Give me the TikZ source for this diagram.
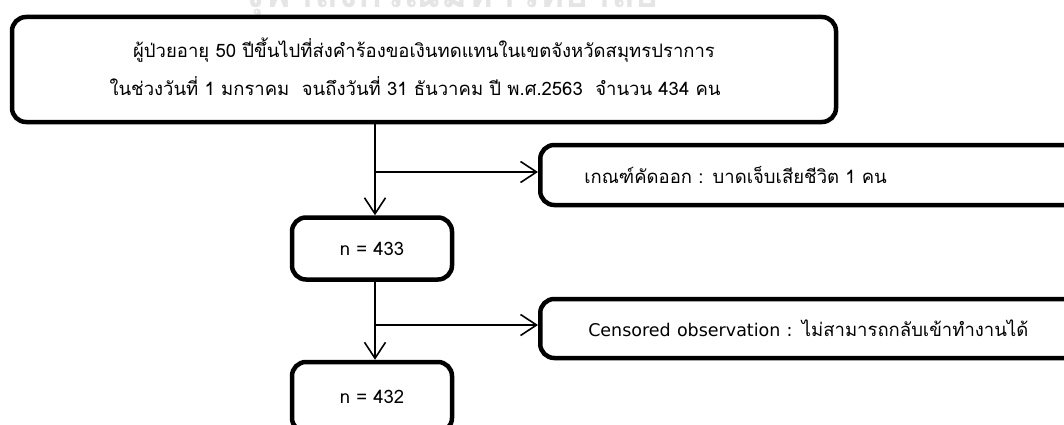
\documentclass[tikz,border=0pt]{standalone}
\usepackage{fontspec}
\newfontfamily\thai[Script=Thai]{Loma}
\newfontfamily\latin{DejaVu Sans}
\usetikzlibrary{arrows.meta}
\begin{document}
\begin{tikzpicture}[x=1pt,y=-1pt,
  box/.style={draw=black, line width=4.5pt, rounded corners=14pt, fill=white, inner sep=0pt},
  conn/.style={draw=black, line width=1.6pt},
  arr/.style={conn, -{Straight Barb[length=16pt,width=21pt,line width=1.6pt]}},
  txt/.style={font=\thai\fontsize{18.5}{36}\selectfont}]
\useasboundingbox (0,0) rectangle (1064,425);
\clip (0,0) rectangle (1064,425);
\fill[white] (0,0) rectangle (1064,425);
% watermark
\node[font=\thai\bfseries\fontsize{40}{40}\selectfont, text=black!10, anchor=base] (wm) at (450,8) {จุฬาลงกรณ์มหาวิทยาลัย};
% boxes
\node[box, minimum width=824pt, minimum height=105pt, txt] (top) at (424,69.5)
  {\raisebox{-8pt}{\def\arraystretch{1}\begin{tabular}{@{}c@{}}
   ผู้ป่วยอายุ 50 ปีขึ้นไปที่ส่งคำร้องขอเงินทดแทนในเขตจังหวัดสมุทรปราการ\\[2pt]
   ในช่วงวันที่ 1 มกราคม\ \ จนถึงวันที่ 31 ธันวาคม ปี พ.ศ.2563\ \ จำนวน 434 คน\hspace{18pt}
   \end{tabular}}};
\node[box, minimum width=160pt, minimum height=62pt, txt] (n1) at (372,248.5) {\raisebox{-6pt}{n = 433}};
\node[box, minimum width=160pt, minimum height=70pt, txt] (n2) at (372,397) {\raisebox{-3pt}{n = 432}};
\node[box, anchor=west, minimum height=60pt, inner xsep=44pt, text width=500pt, align=left, txt] (ex1) at (538,175)
  {\raisebox{-7pt}{เกณฑ์คัดออก : บาดเจ็บเสียชีวิต 1 คน}};
\node[box, anchor=west, minimum height=59pt, inner xsep=48pt, text width=500pt, align=left, txt] (ex2) at (538,328.5)
  {\raisebox{-6pt}{{\latin\fontsize{17.5}{36}\selectfont Censored observation :} ไม่สามารถกลับเข้าทำงานได้}};
% connectors
\coordinate (b1) at (375,172);
\coordinate (b2) at (375,325);
\draw[arr] (top.south -| b1) -- (b1 |- n1.north);
\draw[arr] (b1) -- (b1 -| ex1.west);
\draw[arr] (n1.south -| b2) -- (b2 |- n2.north);
\draw[arr] (b2) -- (b2 -| ex2.west);
\end{tikzpicture}
\end{document}
